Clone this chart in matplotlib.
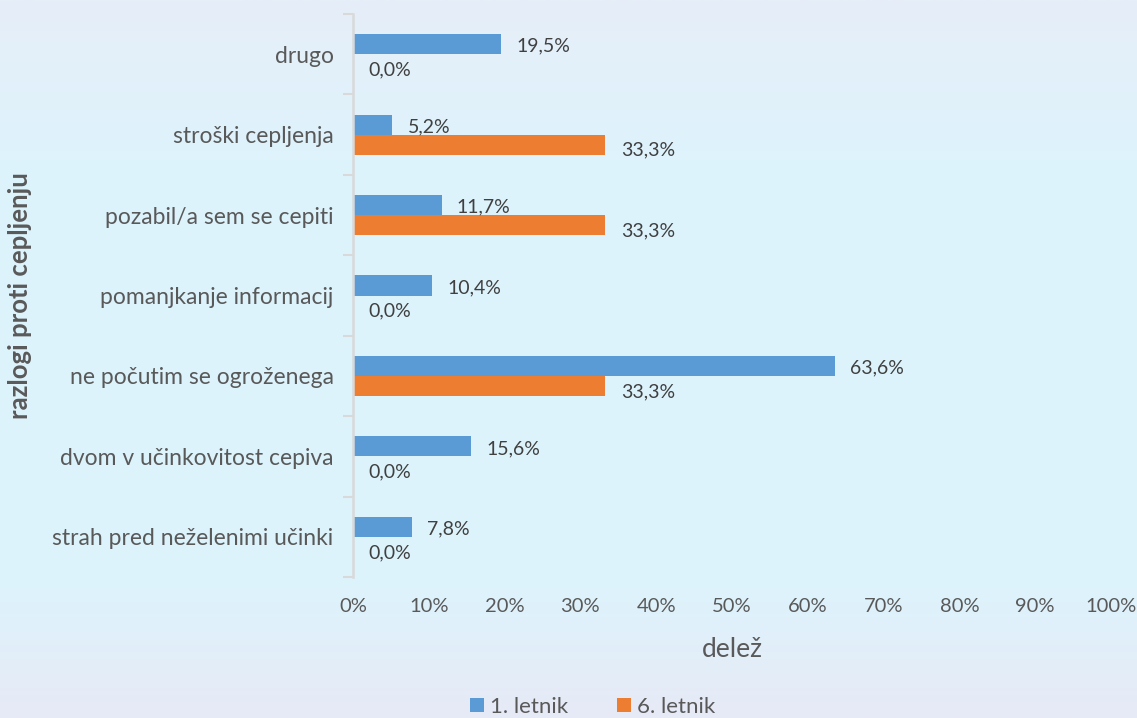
import numpy as np
import matplotlib
matplotlib.use("Agg")
import matplotlib.pyplot as plt
from matplotlib.colors import LinearSegmentedColormap
from matplotlib.ticker import FixedLocator

plt.rcParams['font.family'] = ['Lato', 'DejaVu Sans']

# ---- data ----
razlogi = ["strah pred neželenimi učinki", "dvom v učinkovitost cepiva",
           "ne počutim se ogroženega", "pomanjkanje informacij",
           "pozabil/a sem se cepiti", "stroški cepljenja", "drugo"]
letnik1 = [7.8, 15.6, 63.6, 10.4, 11.7, 5.2, 19.5]
letnik6 = [0.0, 0.0, 33.3, 0.0, 33.3, 33.3, 0.0]
serije = ["1. letnik", "6. letnik"]
x_ticks = list(range(0, 101, 10))

c1 = "#5b9bd5"
c6 = "#ed7d31"
txt = "#595959"

fig = plt.figure(figsize=(11.37, 7.18), dpi=100)

# background gradient
bg = fig.add_axes([0, 0, 1, 1], zorder=-10)
cmap = LinearSegmentedColormap.from_list("bg", [(0, "#e6eef8"), (0.25, "#ddf4fd"),
                                               (0.82, "#ddf3fc"), (1.0, "#e7eaf6")])
bg.imshow(np.linspace(0, 1, 256).reshape(-1, 1), aspect="auto", cmap=cmap,
          extent=[0, 1, 0, 1], origin="upper")
bg.axis("off")

ax = fig.add_axes([353 / 1137, 1 - 577 / 718, 758 / 1137, 563 / 718])
ax.set_facecolor("none")

y = np.arange(len(razlogi))
h = 0.25
ax.barh(y + h / 2, letnik1, height=h, color=c1, label=serije[0])
ax.barh(y - h / 2, letnik6, height=h, color=c6, label=serije[1])

for yi, v in zip(y, letnik1):
    ax.annotate(f"{v:.1f}%".replace(".", ","), (v, yi + h / 2), xytext=(11, -1.5),
                textcoords="offset points", va="center", ha="left",
                fontsize=14, color="#404040")
for yi, v in zip(y, letnik6):
    ax.annotate(f"{v:.1f}%".replace(".", ","), (v, yi - h / 2), xytext=(11, -4),
                textcoords="offset points", va="center", ha="left",
                fontsize=14, color="#404040")

ax.set_xlim(0, 100)
ax.set_ylim(-0.5, len(razlogi) - 0.5)
ax.set_xticks(x_ticks)
ax.set_xticklabels([f"{t}%" for t in x_ticks], fontsize=14.5, color=txt)
ax.set_yticks(y)
ax.set_yticklabels(razlogi, fontsize=16.5, color=txt)
ax.yaxis.set_minor_locator(FixedLocator(np.arange(-0.5, len(razlogi), 1)))
ax.tick_params(axis="y", which="major", length=0, pad=14)
ax.tick_params(axis="y", which="minor", length=7, width=1.5, color="#d9d9d9")
ax.tick_params(axis="x", length=0, pad=15)

for s in ["top", "right", "bottom"]:
    ax.spines[s].set_visible(False)
ax.spines["left"].set_color("#d9d9d9")
ax.spines["left"].set_linewidth(1.8)

ax.set_xlabel("delež", fontsize=19, color=txt, labelpad=16)
fig.text(20 / 1137, 1 - 296 / 718, "razlogi proti cepljenju", rotation=90,
         fontsize=18.5, fontweight="bold", color=txt, ha="center", va="center")

fig.legend(loc="center", bbox_to_anchor=(593 / 1137, 1 - 707 / 718), ncol=2,
           frameon=False, fontsize=16, labelcolor=txt, handlelength=0.6,
           handleheight=0.6, handletextpad=0.3, columnspacing=2.2)

fig.savefig("out.png", dpi=100)
